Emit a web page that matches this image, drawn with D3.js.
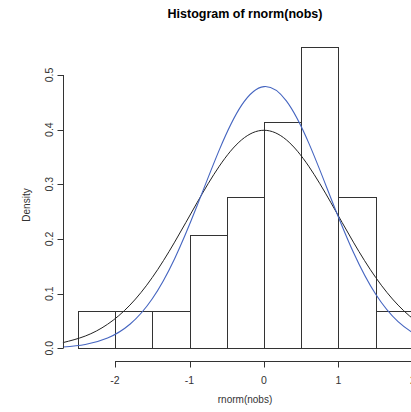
<!DOCTYPE html>
<html>
<head>
<meta charset="utf-8">
<script src="https://cdn.jsdelivr.net/npm/d3@7"></script>
<style>
  html, body { margin: 0; padding: 0; background: #fff; }
  svg { display: block; }
  text { font-family: "Liberation Sans", Arial, Helvetica, sans-serif; }
</style>
</head>
<body>
<svg id="chart" width="411" height="412"></svg>
<script>
// ---- data ----
const title = "Histogram of rnorm(nobs)";
const xLabel = "rnorm(nobs)";
const yLabel = "Density";
const binStarts = [-2.5, -2.0, -1.5, -1.0, -0.5, 0.0, 0.5, 1.0, 1.5];
const binEnds   = [-2.0, -1.5, -1.0, -0.5, 0.0, 0.5, 1.0, 1.5, 2.0];
const densities = [0.069, 0.069, 0.069, 0.207, 0.276, 0.414, 0.552, 0.276, 0.069];
const curveX     = [-2.7, -2.4, -2.1, -1.8, -1.5, -1.2, -0.9, -0.6, -0.3, 0.0, 0.3, 0.6, 0.9, 1.2, 1.5, 1.8, 2.1, 2.4, 2.7];
const blackCurve = [0.0104, 0.0224, 0.0440, 0.0790, 0.1295, 0.1942, 0.2661, 0.3332, 0.3814, 0.3989, 0.3814, 0.3332, 0.2661, 0.1942, 0.1295, 0.0790, 0.0440, 0.0224, 0.0104];
const blueCurve  = [0.0023, 0.0070, 0.0188, 0.0440, 0.0906, 0.1639, 0.2602, 0.3630, 0.4448, 0.4788, 0.4526, 0.3758, 0.2741, 0.1756, 0.0988, 0.0488, 0.0212, 0.0081, 0.0027];
const xTicks = [-2, -1, 0, 1, 2];
const yTicks = [0.0, 0.1, 0.2, 0.3, 0.4, 0.5];

// ---- layout ----
const svg = d3.select("#chart");
const x = d3.scaleLinear().domain([-2.7, 2.7]).range([62.9, 465.1]);
const y = d3.scaleLinear().domain([0, 0.5]).range([348.3, 75]);
const axisY = 361;   // x-axis line position
const axisX = 63.5;  // y-axis line position
const ink = "#333";

// bars
svg.append("g").selectAll("rect")
  .data(densities)
  .join("rect")
  .attr("x", (d, i) => Math.round(x(binStarts[i])) + 0.5)
  .attr("y", d => Math.round(y(d)) + 0.5)
  .attr("width", (d, i) => Math.round(x(binEnds[i])) - Math.round(x(binStarts[i])))
  .attr("height", d => Math.round(y(0)) - Math.round(y(d)))
  .attr("fill", "none")
  .attr("stroke", ink)
  .attr("stroke-width", 1);

// curves
const line = (vals) => d3.line()
  .x((d, i) => x(curveX[i]))
  .y(d => y(d))
  .curve(d3.curveNatural)(vals);

svg.append("path").attr("d", line(blackCurve))
  .attr("fill", "none").attr("stroke", "#222").attr("stroke-width", 1);
svg.append("path").attr("d", line(blueCurve))
  .attr("fill", "none").attr("stroke", "#4565c0").attr("stroke-width", 1.1);

// x axis
const gx = svg.append("g").attr("transform", `translate(0,${axisY})`);
gx.append("line")
  .attr("x1", x(xTicks[0])).attr("x2", x(xTicks[xTicks.length - 1]))
  .attr("y1", 0.5).attr("y2", 0.5).attr("stroke", ink);
gx.selectAll("line.tick").data(xTicks).join("line")
  .attr("class", "tick")
  .attr("x1", d => Math.round(x(d)) + 0.5).attr("x2", d => Math.round(x(d)) + 0.5)
  .attr("y1", 0.5).attr("y2", 6.5).attr("stroke", ink);
gx.selectAll("text").data(xTicks).join("text")
  .attr("x", d => x(d)).attr("y", 23)
  .attr("text-anchor", "middle")
  .attr("font-size", 10.5).attr("fill", "#333")
  .text(d => String(d));

// y axis
const gy = svg.append("g").attr("transform", `translate(${axisX},0)`);
gy.append("line")
  .attr("x1", 0).attr("x2", 0)
  .attr("y1", y(yTicks[0])).attr("y2", y(yTicks[yTicks.length - 1]))
  .attr("stroke", ink);
gy.selectAll("line.tick").data(yTicks).join("line")
  .attr("class", "tick")
  .attr("x1", 0).attr("x2", -6)
  .attr("y1", d => Math.round(y(d)) + 0.5).attr("y2", d => Math.round(y(d)) + 0.5)
  .attr("stroke", ink);
gy.selectAll("text").data(yTicks).join("text")
  .attr("transform", d => `translate(-11,${y(d)}) rotate(-90)`)
  .attr("text-anchor", "middle")
  .attr("font-size", 10.5).attr("fill", "#333")
  .text(d => d3.format(".1f")(d));

// labels
svg.append("text").attr("x", 245).attr("y", 18)
  .attr("text-anchor", "middle").attr("font-weight", "bold")
  .attr("font-size", 12.5).attr("fill", "#000").text(title);
svg.append("text").attr("x", 245).attr("y", 403)
  .attr("text-anchor", "middle")
  .attr("font-size", 10).attr("fill", "#333").text(xLabel);
svg.append("text").attr("transform", `translate(30,205) rotate(-90)`)
  .attr("text-anchor", "middle")
  .attr("font-size", 10).attr("fill", "#333").text(yLabel);
</script>
</body>
</html>
